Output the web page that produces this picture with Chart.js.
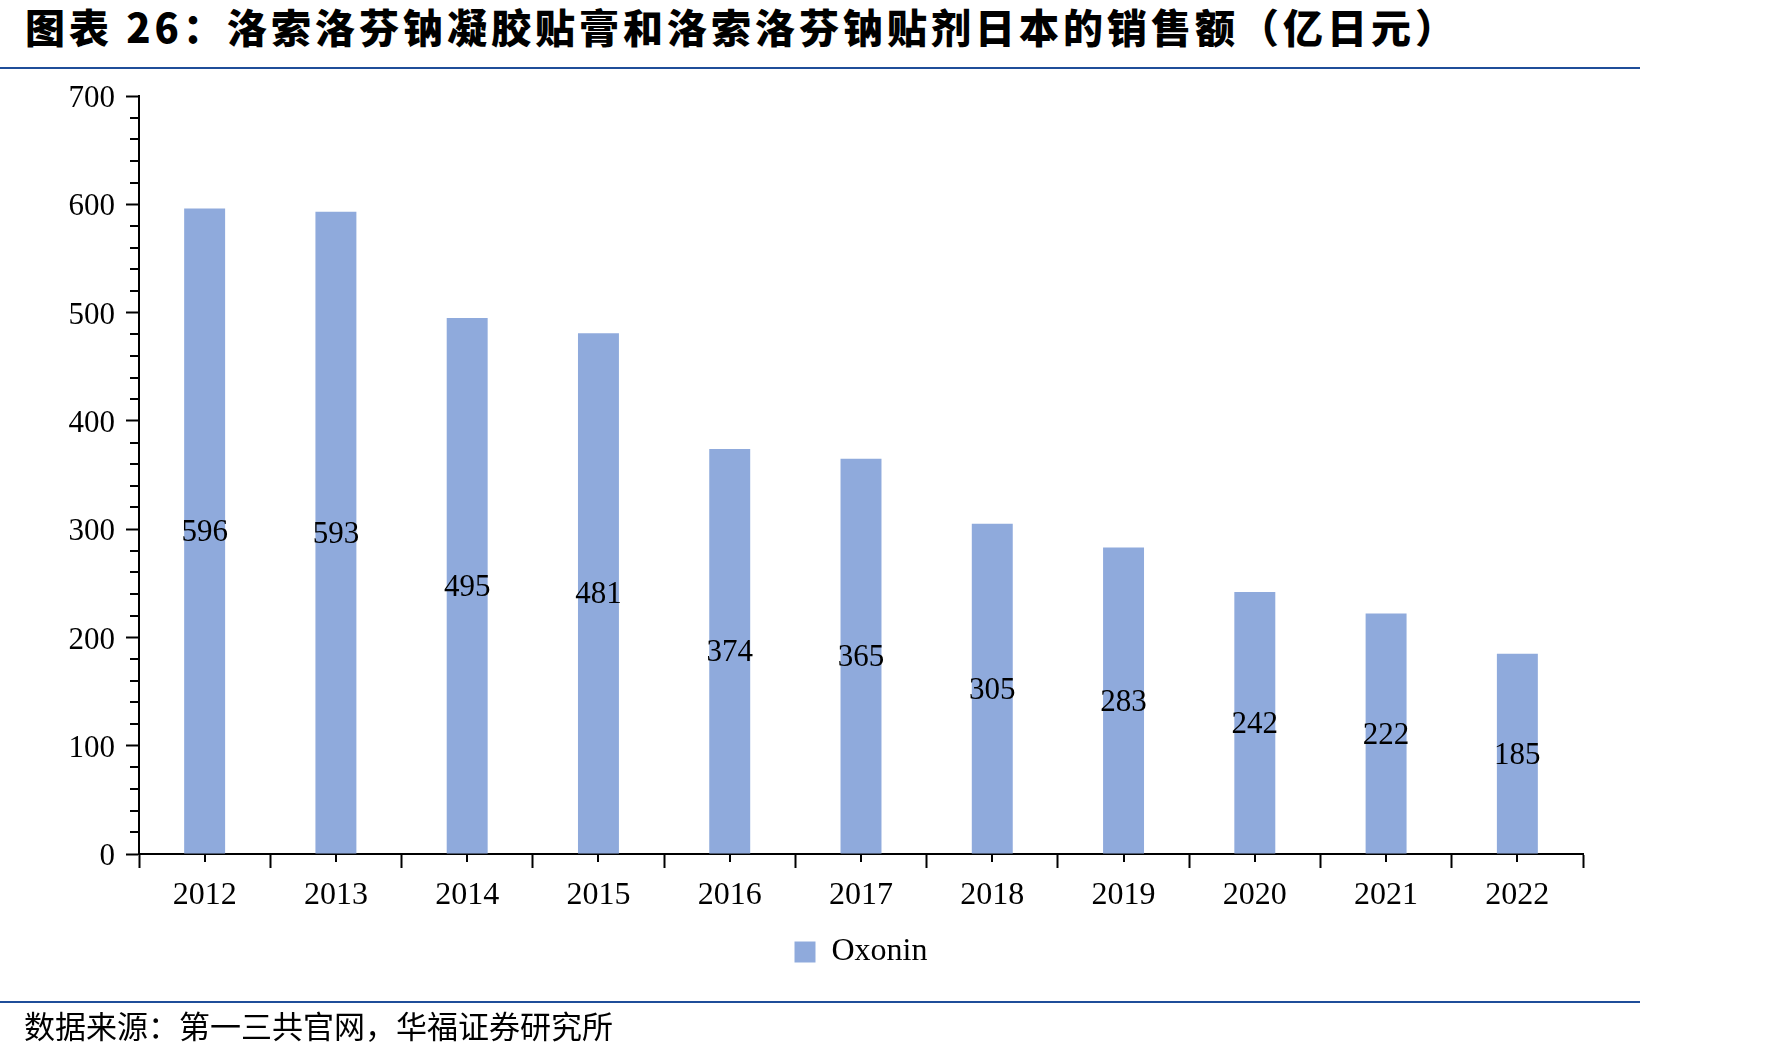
<!DOCTYPE html>
<html lang="zh-CN">
<head>
<meta charset="utf-8">
<title>洛索洛芬钠销售额</title>
<script src="https://cdn.jsdelivr.net/npm/chart.js@4.4.1/dist/chart.umd.min.js"></script>
<style>
  html, body { margin: 0; padding: 0; background: #fff; }
  body { width: 1772px; height: 1056px; position: relative; overflow: hidden; }
  #chart { position: absolute; left: 0; top: 0; }
  .title {
    position: absolute; left: 25px; top: 1px; height: 50px; line-height: 50px;
    font-family: "Noto Sans CJK SC", sans-serif; font-weight: 900; font-size: 40px;
    letter-spacing: 4px; color: #000; white-space: nowrap;
  }
  .rule { position: absolute; left: 0; width: 1640px; height: 2px; background: #1f4e99; }
  .source {
    position: absolute; left: 24px; top: 1005px; height: 40px; line-height: 40px;
    font-family: "Noto Sans CJK SC", sans-serif; font-weight: 400; font-size: 31px;
    color: #000; white-space: nowrap;
  }
</style>
</head>
<body>
<div class="title">图表 26：洛索洛芬钠凝胶贴膏和洛索洛芬钠贴剂日本的销售额（亿日元）</div>
<div class="rule" style="top:67px"></div>
<canvas id="chart" width="1772" height="1056"></canvas>
<div class="rule" style="top:1001px"></div>
<div class="source">数据来源：第一三共官网，华福证券研究所</div>
<script>
// data
const years = ['2012', '2013', '2014', '2015', '2016', '2017', '2018', '2019', '2020', '2021', '2022'];
const sales = [596, 593, 495, 481, 374, 365, 305, 283, 242, 222, 185];
const seriesName = 'Oxonin';
const yMin = 0;
const yMax = 700;
const yStep = 100;
const yMinorStep = 20;

Chart.defaults.font.family = "'Liberation Serif', 'Times New Roman', serif";
Chart.defaults.color = '#000';

// value in the middle of each bar
const barLabels = {
  id: 'barLabels',
  afterDatasetsDraw(chart) {
    const ctx = chart.ctx;
    const meta = chart.getDatasetMeta(0);
    ctx.save();
    ctx.font = "31px 'Liberation Serif'";
    ctx.fillStyle = '#000';
    ctx.textAlign = 'center';
    ctx.textBaseline = 'middle';
    meta.data.forEach((bar, i) => {
      ctx.fillText(sales[i], bar.x, (bar.y + bar.base) / 2 + 2);
    });
    ctx.restore();
  }
};

// short ticks: y minor steps and x category centres
const minorTicks = {
  id: 'minorTicks',
  afterDraw(chart) {
    const { ctx, scales: { x, y } } = chart;
    ctx.save();
    ctx.strokeStyle = '#000';
    ctx.lineWidth = 2;
    ctx.beginPath();
    for (let v = yMin; v <= yMax; v += yMinorStep) {
      if (v % yStep === 0) continue;
      const py = Math.round(y.getPixelForValue(v));
      ctx.moveTo(y.right - 9, py);
      ctx.lineTo(y.right, py);
    }
    years.forEach((_, i) => {
      const px = Math.round(x.getPixelForValue(i));
      ctx.moveTo(px, x.top);
      ctx.lineTo(px, x.top + 8);
    });
    ctx.stroke();
    ctx.restore();
  }
};

new Chart(document.getElementById('chart'), {
  type: 'bar',
  data: {
    labels: years,
    datasets: [{
      label: seriesName,
      data: sales,
      backgroundColor: '#8faadc',
      borderWidth: 0,
      categoryPercentage: 1,
      barPercentage: 0.312
    }]
  },
  options: {
    responsive: false,
    animation: false,
    layout: { padding: { left: 0, right: 189, top: 96, bottom: 78 } },
    plugins: {
      legend: {
        position: 'bottom',
        fullSize: false,
        labels: { boxWidth: 21, boxHeight: 21, padding: 10, font: { size: 32 }, color: '#000' }
      },
      tooltip: { enabled: false },
      title: { display: false }
    },
    scales: {
      x: {
        grid: { offset: true, drawOnChartArea: false, tickLength: 14, tickWidth: 2, tickColor: '#000' },
        border: { display: true, color: '#000', width: 2 },
        ticks: { padding: 8, font: { size: 32 }, color: '#000', maxRotation: 0 },
        afterFit(scale) { scale.height = 72; }
      },
      y: {
        min: yMin,
        max: yMax,
        ticks: { stepSize: yStep, padding: 11, labelOffset: 3, font: { size: 31 }, color: '#000' },
        grid: { drawOnChartArea: false, tickLength: 13, tickWidth: 2, tickColor: '#000' },
        border: { display: true, color: '#000', width: 2 },
        afterFit(scale) { scale.width = 139; }
      }
    }
  },
  plugins: [barLabels, minorTicks]
});
</script>
</body>
</html>
